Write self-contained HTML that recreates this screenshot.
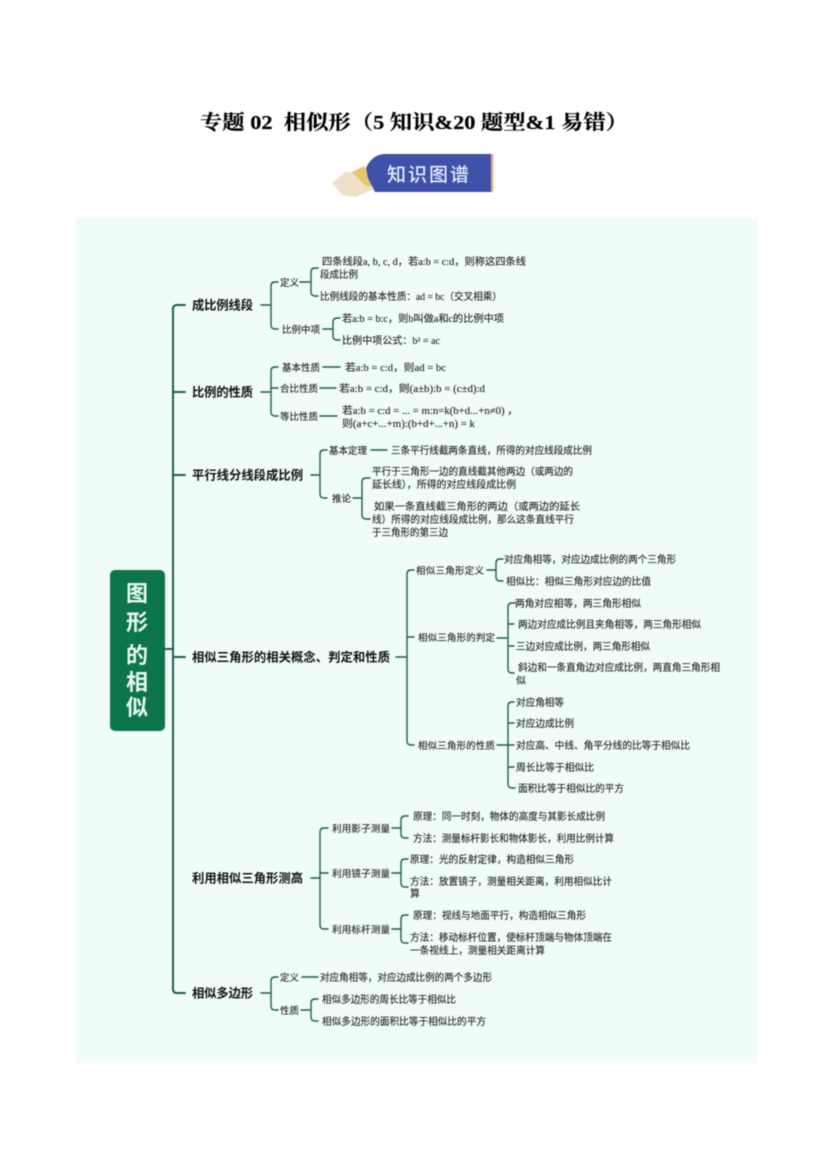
<!DOCTYPE html>
<html lang="zh"><head><meta charset="utf-8"><style>
html,body{margin:0;padding:0;background:#fff;width:827px;height:1169px;overflow:hidden}
svg{display:block;filter:blur(.45px)}
text{font-family:"Liberation Serif","Noto Sans CJK SC",sans-serif;fill:#222;font-size:10px;stroke:#222;stroke-width:.12px}
.t{font-family:"Liberation Serif","Noto Serif CJK SC",serif;font-weight:700;font-size:20px;fill:#000;stroke:#000;stroke-width:.2px}
.a{font-family:"Liberation Sans","Noto Sans CJK SC",sans-serif;font-weight:700;font-size:12.3px;fill:#111;stroke:none}
.b{font-family:"Liberation Sans","Noto Sans CJK SC",sans-serif;font-size:9.5px;fill:#222;stroke:#222;stroke-width:.12px}
.r{font-family:"Liberation Sans","Noto Sans CJK SC",sans-serif;font-weight:700;font-size:22px;fill:#e8f8ee;text-anchor:middle;stroke:none}
.k{font-family:"Liberation Sans","Noto Sans CJK SC",sans-serif;font-weight:500;font-size:19px;fill:#e6ecff;stroke:none}
.l{fill:none;stroke:#1f5d4b;stroke-width:1.4;stroke-linecap:round}
.m{stroke-width:2}
</style></head><body>
<svg width="827" height="1169" viewBox="0 0 827 1169" xmlns="http://www.w3.org/2000/svg">
<rect width="827" height="1169" fill="#fff"/>
<text class="t" x="200" y="129" textLength="428" lengthAdjust="spacingAndGlyphs">专题 02&#160;&#160;相似形（5 知识&amp;20 题型&amp;1 易错）</text>

<polygon points="332,183 345,172 362,172 376,188 356,197 342,195" fill="#efe0c8"/>
<polygon points="352,172 364,166 376,186 366,186" fill="#e6c66e"/>
<path d="M366 168 Q372 155 384 154 H492 V192 H375 L368 178 Z" fill="#3f51a8"/>
<rect x="491" y="154" width="2.5" height="38" fill="#e8b08c"/>
<text class="k" x="387" y="181" textLength="82" lengthAdjust="spacing">知识图谱</text>

<rect x="76" y="218" width="681" height="845" fill="#effcf8"/>
<rect x="110" y="570" width="55" height="161" rx="5" fill="#0c7549"/>
<text class="r" x="137" y="601">图</text><text class="r" x="137" y="630">形</text><text class="r" x="137" y="663">的</text><text class="r" x="137" y="690">相</text><text class="r" x="137" y="715">似</text>

<g class="l">
<path class="l m" d="M185 305H177Q173 305 173 309V989Q173 993 177 993H185M173 392H185M173 475H185M173 657H185M165 649H173"/>
<path class="l" d="M261 305H271M278 282H275Q271 282 271 286V325Q271 329 275 329H278"/>
<path class="l" d="M300 282H311M318 268H315Q311 268 311 272V292Q311 296 315 296H318"/>
<path class="l" d="M323 329H333M340 318H337Q333 318 333 322V336Q333 340 337 340H340"/>
<path class="l" d="M261 392H271M278 367H275Q271 367 271 371V412Q271 416 275 416H278M271 388H278"/>
<path class="l" d="M323 367H340M320 388H336M320 416H337"/>
<path class="l" d="M311 475H320M327 450H324Q320 450 320 454V494Q320 498 324 498H327"/>
<path class="l" d="M371 450H387M353 498H362M370 478H366Q362 478 362 482V515Q362 519 366 519H370"/>
<path class="l" d="M396 657H407M414 570H411Q407 570 407 574V741Q407 745 411 745H414M407 637H414"/>
<path class="l" d="M487 570H496M503 559H500Q496 559 496 563V577Q496 581 500 581H503"/>
<path class="l" d="M497 638H508M515 603H512Q508 603 508 607V669Q508 673 512 673H514M508 624H514M508 646H514"/>
<path class="l" d="M497 745H514M514 702H512Q508 702 508 706V784Q508 788 512 788H515M508 723H514M508 767H514"/>
<path class="l" d="M311 878H320M328 828H324Q320 828 320 832V925Q320 929 324 929H328M320 873H328"/>
<path class="l" d="M392 828H401M408 816H405Q401 816 401 820V834Q401 838 405 838H408"/>
<path class="l" d="M392 873H401M408 859H405Q401 859 401 863V883Q401 887 405 887H408"/>
<path class="l" d="M392 929H401M408 915H405Q401 915 401 919V939Q401 943 405 943H408"/>
<path class="l" d="M261 993H271M278 977H275Q271 977 271 981V1006Q271 1010 275 1010H278"/>
<path class="l" d="M302 977H318M301 1010H311M318 999H315Q311 999 311 1003V1017Q311 1021 315 1021H318"/>
</g>

<text class="a" x="192" y="309.500" textLength="61">成比例线段</text>
<text class="a" x="192" y="396.500" textLength="61">比例的性质</text>
<text class="a" x="192" y="479.500" textLength="111">平行线分线段成比例</text>
<text class="a" x="192" y="661.500" textLength="198">相似三角形的相关概念、判定和性质</text>
<text class="a" x="192" y="882.500" textLength="111">利用相似三角形测高</text>
<text class="a" x="192" y="997.500" textLength="61">相似多边形</text>

<text class="b" x="280" y="286">定义</text>
<text class="b" x="282" y="333">比例中项</text>
<text class="b" x="282" y="371">基本性质</text>
<text class="b" x="280" y="392">合比性质</text>
<text class="b" x="280" y="420">等比性质</text>
<text class="b" x="329" y="454">基本定理</text>
<text class="b" x="332" y="502">推论</text>
<text class="b" x="416" y="574" textLength="68">相似三角形定义</text>
<text class="b" x="418" y="641" textLength="77">相似三角形的判定</text>
<text class="b" x="418" y="749" textLength="77">相似三角形的性质</text>
<text class="b" x="332" y="832" textLength="58">利用影子测量</text>
<text class="b" x="332" y="877" textLength="58">利用镜子测量</text>
<text class="b" x="332" y="933" textLength="58">利用标杆测量</text>
<text class="b" x="280" y="981">定义</text>
<text class="b" x="280" y="1014">性质</text>

<g>
<text x="322" y="265" textLength="204" lengthAdjust="spacingAndGlyphs">四条线段a, b, c, d，若a:b = c:d，则称这四条线</text>
<text x="320" y="278" textLength="38" lengthAdjust="spacingAndGlyphs">段成比例</text>
<text x="320" y="300" textLength="182" lengthAdjust="spacingAndGlyphs">比例线段的基本性质：ad = bc（交叉相乘）</text>
<text x="342" y="322" textLength="162" lengthAdjust="spacingAndGlyphs">若a:b = b:c，则b叫做a和c的比例中项</text>
<text x="342" y="344" textLength="98" lengthAdjust="spacingAndGlyphs">比例中项公式：b² = ac</text>
<text x="345" y="371" textLength="101" lengthAdjust="spacingAndGlyphs">若a:b = c:d，则ad = bc</text>
<text x="339" y="392" textLength="146" lengthAdjust="spacingAndGlyphs">若a:b = c:d，则(a±b):b = (c±d):d</text>
<text x="342" y="414" textLength="176" lengthAdjust="spacingAndGlyphs">若a:b = c:d = ... = m:n=k(b+d...+n≠0) ，</text>
<text x="342" y="427" textLength="133" lengthAdjust="spacingAndGlyphs">则(a+c+...+m):(b+d+...+n) = k</text>
<text x="391" y="454" textLength="201" lengthAdjust="spacingAndGlyphs">三条平行线截两条直线，所得的对应线段成比例</text>
<text x="372" y="475" textLength="201" lengthAdjust="spacingAndGlyphs">平行于三角形一边的直线截其他两边（或两边的</text>
<text x="372" y="488" textLength="144" lengthAdjust="spacingAndGlyphs">延长线），所得的对应线段成比例</text>
<text x="374" y="510" textLength="206" lengthAdjust="spacingAndGlyphs">如果一条直线截三角形的两边（或两边的延长</text>
<text x="372" y="523" textLength="202" lengthAdjust="spacingAndGlyphs">线）所得的对应线段成比例，那么这条直线平行</text>
<text x="372" y="536" textLength="76" lengthAdjust="spacingAndGlyphs">于三角形的第三边</text>
<text x="504" y="563" textLength="172" lengthAdjust="spacingAndGlyphs">对应角相等，对应边成比例的两个三角形</text>
<text x="506" y="585" textLength="145" lengthAdjust="spacingAndGlyphs">相似比：相似三角形对应边的比值</text>
<text x="515" y="607" textLength="126" lengthAdjust="spacingAndGlyphs">两角对应相等，两三角形相似</text>
<text x="518" y="628" textLength="183" lengthAdjust="spacingAndGlyphs">两边对应成比例且夹角相等，两三角形相似</text>
<text x="516" y="650" textLength="134" lengthAdjust="spacingAndGlyphs">三边对应成比例，两三角形相似</text>
<text x="518" y="671" textLength="202" lengthAdjust="spacingAndGlyphs">斜边和一条直角边对应成比例，两直角三角形相</text>
<text x="516" y="684">似</text>
<text x="516" y="706" textLength="48" lengthAdjust="spacingAndGlyphs">对应角相等</text>
<text x="516" y="727" textLength="58" lengthAdjust="spacingAndGlyphs">对应边成比例</text>
<text x="516" y="749" textLength="174" lengthAdjust="spacingAndGlyphs">对应高、中线、角平分线的比等于相似比</text>
<text x="516" y="771" textLength="78" lengthAdjust="spacingAndGlyphs">周长比等于相似比</text>
<text x="518" y="792" textLength="106" lengthAdjust="spacingAndGlyphs">面积比等于相似比的平方</text>
<text x="413" y="820" textLength="192" lengthAdjust="spacingAndGlyphs">原理：同一时刻，物体的高度与其影长成比例</text>
<text x="413" y="842" textLength="201" lengthAdjust="spacingAndGlyphs">方法：测量标杆影长和物体影长，利用比例计算</text>
<text x="410" y="863" textLength="164" lengthAdjust="spacingAndGlyphs">原理：光的反射定律，构造相似三角形</text>
<text x="410" y="885" textLength="202" lengthAdjust="spacingAndGlyphs">方法：放置镜子，测量相关距离，利用相似比计</text>
<text x="410" y="897">算</text>
<text x="413" y="919" textLength="173" lengthAdjust="spacingAndGlyphs">原理：视线与地面平行，构造相似三角形</text>
<text x="410" y="941" textLength="202" lengthAdjust="spacingAndGlyphs">方法：移动标杆位置，使标杆顶端与物体顶端在</text>
<text x="410" y="954" textLength="135" lengthAdjust="spacingAndGlyphs">一条视线上，测量相关距离计算</text>
<text x="320" y="981" textLength="172" lengthAdjust="spacingAndGlyphs">对应角相等，对应边成比例的两个多边形</text>
<text x="322" y="1003" textLength="134" lengthAdjust="spacingAndGlyphs">相似多边形的周长比等于相似比</text>
<text x="322" y="1025" textLength="164" lengthAdjust="spacingAndGlyphs">相似多边形的面积比等于相似比的平方</text>
</g>
</svg>
</body></html>
